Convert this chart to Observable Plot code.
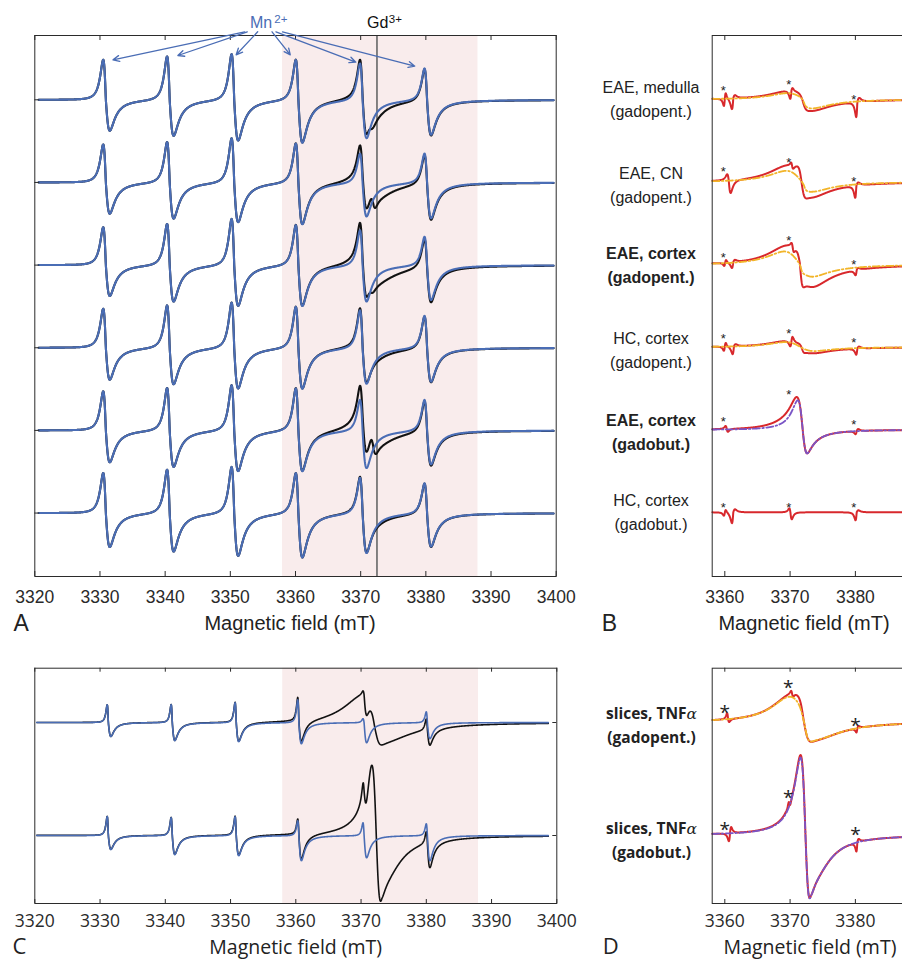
<!DOCTYPE html>
<html>
<head>
<meta charset="utf-8">
<script src="https://cdn.jsdelivr.net/npm/d3@7"></script>
<script src="https://cdn.jsdelivr.net/npm/@observablehq/plot@0.6"></script>
<style>
  html, body { margin: 0; padding: 0; background: #fff; overflow: hidden; }
  #root { position: relative; width: 902px; height: 960px; overflow: hidden; background: #fff; }
  .panel { position: absolute; }
  .panel svg { display: block; }
</style>
</head>
<body>
<div id="root"></div>
<script>
// ================= DATA =================
const ticksWide   = [3320, 3330, 3340, 3350, 3360, 3370, 3380, 3390, 3400];
const ticksNarrow = [3360, 3370, 3380];
const shadedBand  = [3358, 3388];
const gdMarkerField = 3372.5;

// Spectrum components: [centre (mT), low-field width, high-field width, peak height, trough depth, low-field exponent, high-field exponent]

// ---- Panel A : six stacked spectra, Mn2+ sextet (blue) and measured spectra (black)
const spanA = [3320.6, 3399.6];
const mnCentreA = [3330.9, 3340.7, 3350.6, 3360.45, 3370.3, 3380.2];
const mnWidthA  = [0.7, 0.86];
const mnPeakA = [
  [40, 44, 46.5, 41, 37.6, 32.6],
  [38, 41, 45, 40, 30, 30],
  [37.8, 41.8, 47, 41, 36, 29.5],
  [39, 43, 46, 42, 38.7, 33],
  [39, 43, 46, 43, 31.7, 31.7],
  [40, 44, 47, 41, 36.5, 31]
];
const mnTroughA = [
  [31, 35.5, 40, 42, 37.4, 34],
  [31.3, 35.7, 39, 41, 33, 35],
  [31, 36, 40, 40, 35.5, 34],
  [32, 36, 40, 40, 35, 33],
  [32, 36, 40, 40, 36.7, 33],
  [34, 38, 42, 43.5, 39, 32.5]
];
const gdA = [
  [[3371.3, 3, 2, 3, 6, 2, 1.5], [3371.5, 0.8, 0.8, 3, 4, 2, 2]],
  [[3371.6, 2.5, 2.5, 8, 8, 2, 1.5], [3371.9, 0.6, 0.6, 6, 7, 2, 2]],
  [[3371.2, 2.5, 3, 7, 10, 2, 1.5], [3371.6, 0.7, 0.7, 3, 3, 2, 2]],
  [[3371.5, 3, 2.5, 2, 3, 2, 1.5]],
  [[3371.8, 2.5, 2.5, 14, 7, 2, 1.5], [3372.0, 0.65, 0.65, 12, 6, 2, 2]],
  [[3371.5, 3, 2.5, 1, 2, 2, 1.5]]
];
// Mn2+ label arrows: field where each arrow leaves the label, field of its tip, tip height above top spectrum
const arrowFromA = [3352.2, 3352.6, 3354.2, 3356.4, 3357.0, 3358.0];
const arrowToA   = [3332.0, 3341.95, 3350.9, 3359.2, 3369.25, 3378.3];
const arrowTipA  = [40, 44.3, 45, 45, 37.6, 33.6];
const arrowStartA = 68;

// ---- Panel B : Gd3+ difference spectra (red) and fits (dashed)
const spanB = [3358.1, 3387.6];
const rowLabelsB = [
  ["EAE, medulla", "(gadopent.)"],
  ["EAE, CN", "(gadopent.)"],
  ["EAE, cortex", "(gadopent.)"],
  ["HC, cortex", "(gadopent.)"],
  ["EAE, cortex", "(gadobut.)"],
  ["HC, cortex", "(gadobut.)"]
];
const boldB = [false, false, true, false, true, false];
const agentB = ["gadopent", "gadopent", "gadopent", "gadopent", "gadobut", "gadobut"];
const gdB = [
  [[3371.8, 4, 3, 8, 10, 2, 1.5], [3371.9, 1, 1, 3, 5, 2, 2]],
  [[3371.6, 4, 3, 15, 14, 2, 1.5], [3371.8, 0.9, 0.8, 11, 8, 2, 2]],
  [[3371.6, 4, 3, 18, 21, 2, 1.5], [3371.5, 0.8, 0.7, 6, 16, 2, 2]],
  [[3371.6, 4, 3, 6, 6, 2, 1.5], [3371.8, 0.7, 0.6, 2, 3, 2, 2]],
  [[3371.5, 4, 2, 5, 8, 2, 1.5], [3372.0, 1.6, 0.82, 31, 16, 2, 1.5]],
  []
];
const gdFitB = [
  [[3371.8, 4, 3, 6, 8, 2, 1.5], [3372.0, 1, 1, 1, 3, 2, 2]],
  [[3371.7, 4, 3, 11, 9, 2, 1.5], [3372.1, 0.8, 0.8, 1, 3, 2, 2]],
  [[3371.4, 4, 3, 13, 12, 2, 1.5], [3371.6, 0.6, 0.6, 1, 3, 2, 2]],
  [[3371.6, 4, 3, 5, 4, 2, 1.5]],
  [[3371.5, 4, 2, 1.5, 8, 2, 1.5], [3372.0, 1.4, 0.82, 29, 16, 2, 1.5]],
  null
];
const mnResidualB = [
  [[3360.0, 0.25, 0.25, -7, -6, 2, 2], [3361.3, 0.35, 0.45, -11, -3, 2, 2], [3370.2, 0.3, 0.3, -8, -3, 2, 2], [3380.3, 0.3, 0.5, -15, -4, 2, 2]],
  [[3360.6, 0.4, 0.5, 6, 13, 2, 2], [3370.3, 0.25, 0.3, 3, 3, 2, 2], [3380.15, 0.3, 0.5, -12, -3, 2, 2]],
  [[3360.05, 0.25, 0.25, -3, -3, 2, 2], [3361.3, 0.35, 0.45, -6, -2, 2, 2], [3370.4, 0.3, 0.3, 4, 4, 2, 2], [3380.2, 0.3, 0.4, -5, -2, 2, 2]],
  [[3360.0, 0.25, 0.25, -4, -4, 2, 2], [3361.4, 0.35, 0.45, -8, -2, 2, 2], [3370.2, 0.3, 0.3, -5, -5, 2, 2], [3380.3, 0.3, 0.45, -6, -2, 2, 2]],
  [[3360.3, 0.3, 0.3, 3, 3, 2, 2], [3380.2, 0.3, 0.4, -3, -2, 2, 2]],
  [[3360.0, 0.25, 0.25, -3, -3, 2, 2], [3361.3, 0.35, 0.45, -11, -3, 2, 2], [3370.05, 0.3, 0.35, 4, 7, 2, 2], [3380.2, 0.3, 0.45, -8, -2, 2, 2]]
];
const starFieldB  = [3359.75, 3369.8, 3379.75];
const starHeightB = [[11.6, 17.6, 3.3], [13.4, 22.4, 4], [10, 27.3, 3.3], [11.7, 16.7, 7.4], [11.7, 38.3, 8.3], [7.7, 7.7, 7.7]];

// ---- Panel C : brain slices, Mn2+ (blue) and measured (black)
const spanC = [3320.3, 3398.7];
const mnCentreC = [3331.27, 3341.07, 3350.87, 3360.47, 3370.47, 3380.17];
const mnWidthC  = [0.3, 0.55];
const mnPeakC   = [[17.7, 18, 20, 23, 4, 11], [19, 18, 19, 15, 13, 12]];
const mnTroughC = [[14, 18, 19, 21, 20, 16], [14, 19, 20, 25, 22, 25]];

// ---- Panel D : slice Gd3+ spectra (red) and fits (dashed)
const rowLabelsD = [["slices, TNF", "(gadopent.)"], ["slices, TNF", "(gadobut.)"]];
const agentD = ["gadopent", "gadobut"];
const gdSlices = [
  [[3372.0, 4, 4, 23, 15, 2, 1.5], [3372.15, 1.3, 1.3, 13, 11, 2, 2]],
  [[3372.35, 1.06, 0.92, 78, 63.5, 1.5, 1.5], [3373.2, 2.5, 2.5, 2, 19, 1.5, 1.5]]
];
const gdFitSlices = [
  [[3372.0, 4, 4, 23, 15, 2, 1.5], [3372.2, 1.3, 1.2, 6, 11, 2, 2]],
  [[3372.35, 1.06, 0.92, 77, 63.5, 1.5, 1.5], [3373.2, 2.5, 2.5, 0.5, 19, 1.5, 1.5]]
];
const mnResidualD = [
  [[3360.5, 0.25, 0.3, 6, 3, 2, 2], [3370.3, 0.25, 0.3, 3, 3, 2, 2], [3380.3, 0.25, 0.35, -4, -2, 2, 2]],
  [[3360.8, 0.3, 0.3, -8, -6, 2, 2], [3369.9, 0.2, 0.25, 4, 3, 2, 2], [3380.3, 0.25, 0.35, -9, -3, 2, 2]]
];
const starFieldD  = [3360.0, 3369.7, 3380.0];
const starHeightD = [[14, 39, 0.7], [10.5, 41.8, 5.2]];

// ================= LINESHAPES =================
function lobe(u, p) {
  const um = 1 / Math.sqrt(2 * p - 1);
  const gm = um / Math.pow(1 + um * um, p);
  return -u / Math.pow(1 + u * u, p) / gm;
}
function compAt(x, [c, wL, wH, ap, at, pL, pH]) {
  return x < c ? ap * lobe((x - c) / wL, pL) : at * lobe((x - c) / wH, pH);
}
function spectrum([x0, x1], comps, base) {
  const n = Math.round((x1 - x0) / 0.04), out = [];
  for (let i = 0; i <= n; i++) {
    const x = x0 + (x1 - x0) * i / n;
    let y = base;
    for (const c of comps) y += compAt(x, c);
    out.push({x, y});
  }
  return out;
}
const mnComps = (centres, widths, peaks, troughs) =>
  centres.map((c, i) => [c, widths[0], widths[1], peaks[i], troughs[i], 2, 1.5]);

// ================= STYLE =================
const BLUE = "#4a6db5", BLACK = "#121212", RED = "#d8282c", YELLOW = "#f2b52a", PURPLE = "#7a55c6";
const PINK = "#f9ecec", GRAY = "#6f6f6f", AXIS = "#2b2b2b";
const SANS = "Liberation Sans, Arial, Helvetica, sans-serif";
const OPEN = "Open Sans, Noto Sans, sans-serif";
const dashFit = "7,2.5,1.5,2.5";
const root = document.getElementById("root");

function panel({left, top, width, height, mt, mb, ml, mr, domain, font, marks}) {
  const el = Plot.plot({
    width, height, marginTop: mt, marginBottom: mb, marginLeft: ml, marginRight: mr,
    x: {domain},
    y: {domain: [0, height - mt - mb], axis: null},
    style: {fontFamily: font, background: "transparent", overflow: "visible", maxWidth: "none", color: "#2a2a2a"},
    marks
  });
  const div = document.createElement("div");
  div.className = "panel";
  div.style.left = left + "px";
  div.style.top = top + "px";
  div.style.width = width + "px";
  div.appendChild(el);
  root.appendChild(div);
}
function frameTicks(ticks, innerH, len) {
  return [
    Plot.tickX(ticks, {x: d => d, insetTop: innerH - len, stroke: AXIS, strokeWidth: 1}),
    Plot.tickX(ticks, {x: d => d, insetBottom: innerH - len, stroke: AXIS, strokeWidth: 1})
  ];
}

// ---------------- Panel A ----------------
{
  const width = 570, height = 640, mt = 35, mb = 64, ml = 34.3, mr = 14.3;
  const innerH = height - mt - mb, innerW = width - ml - mr;
  const bases = d3.range(6).map(r => innerH - (64.3 + r * 82.65)); // baseline of each stacked spectrum
  const marks = [
    Plot.rect([shadedBand], {x1: d => d[0], x2: d => d[1], fill: PINK}),
    Plot.ruleX([gdMarkerField], {stroke: GRAY, strokeWidth: 1.7})
  ];
  bases.forEach((b, r) => {
    const mn = mnComps(mnCentreA, mnWidthA, mnPeakA[r], mnTroughA[r]);
    marks.push(Plot.line(spectrum(spanA, mn.concat(gdA[r]), b), {x: "x", y: "y", stroke: BLACK, strokeWidth: 2.1}));
    marks.push(Plot.line(spectrum(spanA, mn, b), {x: "x", y: "y", stroke: BLUE, strokeWidth: 2.1}));
  });
  marks.push(
    ...frameTicks(ticksWide, innerH, 5),
    Plot.tickY(bases, {y: d => d, insetRight: innerW - 5, stroke: AXIS}),
    Plot.frame({stroke: AXIS, strokeWidth: 1}),
    Plot.axisX(ticksWide, {anchor: "bottom", tickSize: 0, tickPadding: 13.7, fontSize: 17.5, tickFormat: d => String(d), label: null}),
    Plot.arrow(d3.range(6), {
      x1: i => arrowFromA[i], y1: () => bases[0] + arrowStartA,
      x2: i => arrowToA[i], y2: i => bases[0] + arrowTipA[i],
      stroke: BLUE, strokeWidth: 1.3, headLength: 8, headAngle: 50
    })
  );
  panel({left: 0, top: 0, width, height, mt, mb, ml, mr, domain: [3320, 3400], font: SANS, marks});
}

// ---------------- Panel B ----------------
{
  const width = 360, height = 640, mt = 35, mb = 64, ml = 151.7, mr = 15.5;
  const innerH = height - mt - mb;
  const bases = d3.range(6).map(r => innerH - (63.8 + r * 82.6));
  const marks = [];
  bases.forEach((b, r) => {
    marks.push(Plot.line(spectrum(spanB, gdB[r].concat(mnResidualB[r]), b), {x: "x", y: "y", stroke: RED, strokeWidth: 2}));
    if (gdFitB[r]) marks.push(Plot.line(spectrum(spanB, gdFitB[r], b), {
      x: "x", y: "y", stroke: agentB[r] === "gadobut" ? PURPLE : YELLOW, strokeWidth: 1.8, strokeDasharray: dashFit
    }));
    marks.push(Plot.text(starFieldB, {x: d => d, y: (d, i) => b + starHeightB[r][i], text: () => "*", fontSize: 13, dy: 3.5, fill: "#222"}));
  });
  marks.push(
    ...frameTicks(ticksNarrow, innerH, 5),
    Plot.frame({stroke: AXIS, strokeWidth: 1}),
    Plot.axisX(ticksNarrow, {anchor: "bottom", tickSize: 0, tickPadding: 13.7, fontSize: 17.5, tickFormat: d => String(d), label: null})
  );
  panel({left: 560, top: 0, width, height, mt, mb, ml, mr, domain: [3358.07, 3387.6], font: SANS, marks});
}

// ---------------- Panel C ----------------
{
  const width = 570, height = 320, mt = 27.7, mb = 57, ml = 34.3, mr = 13.7;
  const innerH = height - mt - mb, innerW = width - ml - mr;
  const bases = [innerH - 54.3, innerH - 167.3];
  const marks = [
    Plot.rect([shadedBand], {x1: d => d[0], x2: d => d[1], fill: PINK})
  ];
  bases.forEach((b, r) => {
    const mn = mnComps(mnCentreC, mnWidthC, mnPeakC[r], mnTroughC[r]);
    marks.push(Plot.line(spectrum(spanC, mn.concat(gdSlices[r]), b), {x: "x", y: "y", stroke: BLACK, strokeWidth: 1.6}));
    marks.push(Plot.line(spectrum(spanC, mn, b), {x: "x", y: "y", stroke: BLUE, strokeWidth: 1.6}));
  });
  marks.push(
    ...frameTicks(ticksWide, innerH, 4),
    Plot.tickY(bases, {y: d => d, insetLeft: innerW - 4, stroke: AXIS}),
    Plot.frame({stroke: AXIS, strokeWidth: 1}),
    Plot.axisX(ticksWide, {anchor: "bottom", tickSize: 0, tickPadding: 11.5, fontSize: 17.5, tickFormat: d => String(d), label: null})
  );
  panel({left: 0, top: 640, width, height, mt, mb, ml, mr, domain: [3320, 3400], font: OPEN, marks});
}

// ---------------- Panel D ----------------
{
  const width = 360, height = 320, mt = 27.7, mb = 57, ml = 151.7, mr = 15.5;
  const innerH = height - mt - mb;
  const bases = [innerH - 53.3, innerH - 166.8];
  const marks = [];
  bases.forEach((b, r) => {
    marks.push(Plot.line(spectrum(spanB, gdSlices[r].concat(mnResidualD[r]), b), {x: "x", y: "y", stroke: RED, strokeWidth: 2}));
    marks.push(Plot.line(spectrum(spanB, gdFitSlices[r], b), {
      x: "x", y: "y", stroke: agentD[r] === "gadobut" ? PURPLE : YELLOW, strokeWidth: 1.8, strokeDasharray: dashFit
    }));
    marks.push(Plot.text(starFieldD, {x: d => d, y: (d, i) => b + starHeightD[r][i], text: () => "*", fontSize: 19, dy: 5, fill: "#222"}));
  });
  marks.push(
    ...frameTicks(ticksNarrow, innerH, 4),
    Plot.frame({stroke: AXIS, strokeWidth: 1}),
    Plot.axisX(ticksNarrow, {anchor: "bottom", tickSize: 0, tickPadding: 11.5, fontSize: 17.5, tickFormat: d => String(d), label: null})
  );
  panel({left: 560, top: 640, width, height, mt, mb, ml, mr, domain: [3358.07, 3387.6], font: OPEN, marks});
}

// ================= TEXT OVERLAY (titles, panel letters, row labels) =================
const ov = d3.select("#root").append("svg")
  .attr("width", 902).attr("height", 960)
  .style("position", "absolute").style("left", "0").style("top", "0").style("pointer-events", "none");
function label(x, y, s, {size = 16, family = SANS, weight = "normal", anchor = "start", fill = "#222"} = {}) {
  return ov.append("text").attr("x", x).attr("y", y)
    .attr("font-size", size).attr("font-family", family).attr("font-weight", weight)
    .attr("text-anchor", anchor).attr("fill", fill).text(s);
}
// Panel A annotations
label(250, 28.3, "Mn", {size: 16, fill: BLUE})
  .append("tspan").attr("dx", 2).attr("dy", -5.6).attr("font-size", 11.5).text("2+");
label(367, 28.3, "Gd", {size: 16, fill: "#111"})
  .append("tspan").attr("dx", 0.5).attr("dy", -5.6).attr("font-size", 11.5).text("3+");
label(13.5, 631.3, "A", {size: 23});
label(290, 630.3, "Magnetic field (mT)", {size: 20, anchor: "middle"});
// Panel B
label(601.7, 631.3, "B", {size: 23});
label(804, 630.3, "Magnetic field (mT)", {size: 20, anchor: "middle"});
const rowY1B = [87, 172.7, 253, 338, 420, 500];
rowLabelsB.forEach((lines, r) => {
  const w = boldB[r] ? "bold" : "normal";
  label(651, rowY1B[r] + 5.8, lines[0], {size: 16, weight: w, anchor: "middle"});
  label(651, rowY1B[r] + 24 + 5.8, lines[1], {size: 16, weight: w, anchor: "middle"});
});
// Panel C
label(12.5, 953.5, "C", {size: 22, family: OPEN});
label(295.7, 953.5, "Magnetic field (mT)", {size: 19.5, family: OPEN, anchor: "middle"});
// Panel D
label(602.7, 953.5, "D", {size: 22, family: OPEN});
label(810, 953.5, "Magnetic field (mT)", {size: 19.5, family: OPEN, anchor: "middle"});
const rowY1D = [713.3, 828.3];
rowLabelsD.forEach((lines, r) => {
  label(651.5, rowY1D[r] + 5.5, lines[0], {size: 15.5, family: OPEN, weight: "bold", anchor: "middle"})
    .append("tspan").attr("font-family", "DejaVu Serif").attr("font-style", "italic").attr("font-weight", "normal").text("α");
  label(651.5, rowY1D[r] + 24 + 5.5, lines[1], {size: 15.5, family: OPEN, weight: "bold", anchor: "middle"});
});
</script>
</body>
</html>
